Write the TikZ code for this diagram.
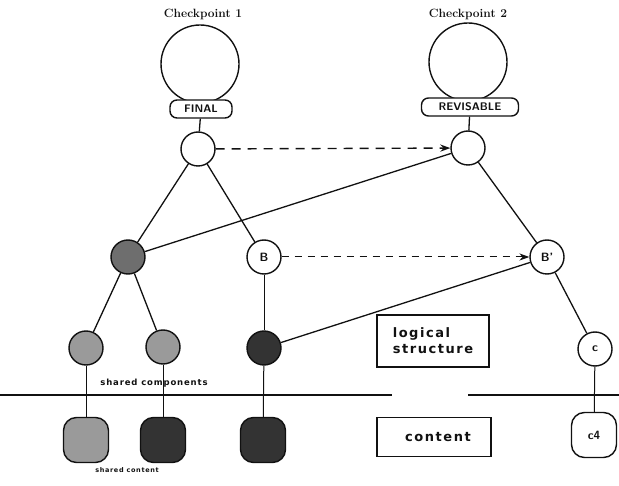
\documentclass[tikz,border=0pt]{standalone}
\usepackage{fontspec}
\usepackage{tikz}
\usetikzlibrary{arrows.meta,positioning}
\newfontfamily\boxfont[LetterSpace=12]{DejaVu Sans}
\newfontfamily\smallfont[LetterSpace=10]{DejaVu Sans}
\definecolor{ink}{HTML}{111111}
\definecolor{lightfill}{HTML}{9A9A9A}
\definecolor{midfill}{HTML}{6E6E6E}
\definecolor{darkfill}{HTML}{333333}

\begin{document}
\begin{tikzpicture}[x=1pt,y=-1pt,
  every node/.style={font=\small, text=ink},
  ckpt/.style={circle, draw=ink, line width=1.4pt, minimum size=78pt, inner sep=0pt},
  ckptlabel/.style={font=\fontsize{12}{14}\selectfont\bfseries},
  tag/.style={rectangle, rounded corners=7pt, draw=ink, line width=1.4pt, fill=white, inner sep=1pt, minimum height=18pt, font=\sffamily\bfseries\fontsize{11}{12}\selectfont},
  vnode/.style={circle, draw=ink, line width=1.4pt, fill=white, minimum size=34pt, inner sep=0pt, font=\sffamily\bfseries\fontsize{12}{14}\selectfont},
  shaded/.style={vnode, fill=#1},
  block/.style={rectangle, rounded corners=13pt, draw=ink, line width=1.4pt, minimum size=45pt, inner sep=0pt, fill=#1, font=\sffamily\bfseries\fontsize{12}{14}\selectfont},
  infobox/.style={rectangle, draw=ink, line width=1.4pt, align=left, inner sep=4pt, font=\boxfont\bfseries\fontsize{13}{16}\selectfont},
  edge/.style={draw=ink, line width=1.3pt},
  thin/.style={draw=ink, line width=1pt},
  link/.style={-{Stealth[length=3.5mm,width=2.5mm]}, draw=ink, line width=1.4pt, dash pattern=on 9pt off 7pt},
  note/.style={font=\smallfont\bfseries\fontsize{8.5}{10}\selectfont}
]
\useasboundingbox (0,0) rectangle (619,486);

% checkpoints
\node[ckptlabel] (cp1lbl) at (203,14) {Checkpoint 1};
\node[ckptlabel] (cp2lbl) at (468,14) {Checkpoint 2};
\node[ckpt] (cp1) at (200,64) {};
\node[ckpt] (cp2) at (468,62) {};
\node[tag, minimum width=62pt] (final) at (201,109) {FINAL};
\node[tag, minimum width=97pt] (revis) at (470,107) {REVISABLE};

% version roots
\node[vnode] (root1) at (198,149) {};
\node[vnode] (root2) at (468,148) {};

% logical structure
\node[shaded=midfill]   (a)   at (128,257) {};
\node[vnode]            (b)   at (264,257) {B};
\node[vnode]            (b2)  at (547,257) {B'};
\node[shaded=lightfill] (la)  at (86,348)  {};
\node[shaded=lightfill] (lb)  at (163,347) {};
\node[shaded=darkfill]  (lc)  at (264,348) {};
\node[vnode]            (c)   at (595,349) {c};

% content
\node[block=lightfill] (ka) at (86,440)  {};
\node[block=darkfill]  (kb) at (163,440) {};
\node[block=darkfill]  (kc) at (263,440) {};
\node[block=white]     (kd) at (594,435) {c4};

\node[infobox, minimum width=112pt, minimum height=52pt] (logic) at (433,341) {logical\\structure};
\node[infobox, minimum width=114pt, minimum height=39pt, align=center] (cont) at (434,437) {\hspace{8pt}content};

\node[note] (sharedcomp) at (154,383) {shared components};
\node[note, font=\smallfont\bfseries\fontsize{6.5}{8}\selectfont] (sharedcont) at (127,470) {shared content};

% layer divider
\coordinate (divl) at (0,395);
\coordinate (divm) at (392,395);
\coordinate (divn) at (468,395);
\coordinate (divr) at (619,395);
\draw[edge] (divl) -- (divm);
\draw[edge] (divn) -- (divr);

% tree edges
\draw[edge] (final) -- (root1);
\draw[edge] (revis) -- (root2);
\draw[edge] (root1) -- (a);
\draw[edge] (root1) -- (b);
\draw[edge] (root2) -- (a);
\draw[edge] (root2) -- (b2);
\draw[edge] (a) -- (la);
\draw[edge] (a) -- (lb);
\draw[thin] (b) -- (lc);
\draw[edge] (b2) -- (lc);
\draw[edge] (b2) -- (c);

% content links
\draw[thin] (la) -- (ka);
\draw[thin] (lb) -- (kb);
\draw[thin] (lc) -- (kc);
\draw[thin] (c) -- (kd);

% version links
\draw[link] (root1) -- (root2);
\draw[link, line width=1pt, dash pattern=on 7pt off 6pt] (b) -- (b2);
\end{tikzpicture}
\end{document}
